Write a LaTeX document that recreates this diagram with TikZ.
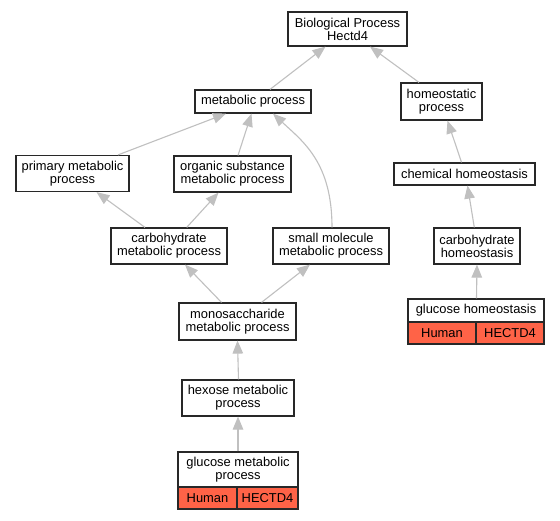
\documentclass[tikz,border=0pt]{standalone}
\usepackage{fontspec}
\setmainfont{Liberation Sans}
\usetikzlibrary{arrows.meta}
\definecolor{edgegray}{RGB}{192,192,192}
\definecolor{cellred}{RGB}{255,99,71}
\definecolor{boxline}{RGB}{40,40,40}
\tikzset{
  term/.style={draw=boxline, line width=1.2pt, fill=white, inner sep=0pt, align=center,
    font=\fontsize{12.9}{13.2}\selectfont},
  cell/.style={term, fill=cellred},
  isa/.style={draw=edgegray, line width=1.1pt, -{Triangle[length=13pt,width=10.5pt]}}
}
\begin{document}
\begin{tikzpicture}[x=1pt,y=-1pt]
\useasboundingbox (0,0) rectangle (560,520);
\fill[white] (0,0) rectangle (560,520);
% nodes
\node[term, minimum width=119pt, minimum height=34pt] (bp) at (347.5,29) {Biological Process\\Hectd4};
\node[term, minimum width=116pt, minimum height=23pt] (met) at (253,101.5) {metabolic process};
\node[term, minimum width=81pt, minimum height=37pt] (homeo) at (441.5,101.5) {homeostatic\\process};
\node[term, minimum width=113pt, minimum height=36pt] (prim) at (72.5,173.5) {primary metabolic\\process};
\node[term, minimum width=117pt, minimum height=36pt] (org) at (232.5,174) {organic substance\\metabolic process};
\node[term, minimum width=141pt, minimum height=22pt] (chem) at (464.5,174) {chemical homeostasis};
\node[term, minimum width=116pt, minimum height=36pt] (carb) at (169,246) {carbohydrate\\metabolic process};
\node[term, minimum width=116pt, minimum height=36pt] (small) at (331,246) {small molecule\\metabolic process};
\node[term, minimum width=86pt, minimum height=36pt] (carbh) at (477,246) {carbohydrate\\homeostasis};
\node[term, minimum width=136pt, minimum height=23pt] (glch) at (476,310.5) {glucose homeostasis};
\node[cell, minimum width=68pt, minimum height=22pt] (glchH) at (442,333) {Human};
\node[cell, minimum width=68pt, minimum height=22pt] (glchG) at (510,333) {HECTD4};
\node[term, minimum width=117pt, minimum height=37pt] (mono) at (237.5,321.5) {monosaccharide\\metabolic process};
\node[term, minimum width=112pt, minimum height=36pt] (hex) at (238,398) {hexose metabolic\\process};
\node[term, minimum width=120pt, minimum height=35pt] (glcm) at (238,469.5) {glucose metabolic\\process};
\node[cell, minimum width=59pt, minimum height=22pt] (glcmH) at (207.5,498) {Human};
\node[cell, minimum width=61pt, minimum height=22pt] (glcmG) at (267.5,498) {HECTD4};
% edges
\draw[isa] ([xshift=17pt]met.north) -- ([xshift=-22pt]bp.south);
\draw[isa] ([xshift=-22.5pt]homeo.north) -- ([xshift=22.5pt]bp.south);
\draw[isa] ([xshift=45.5pt]prim.north) -- ([xshift=-27pt]met.south);
\draw[isa] ([xshift=5.5pt]org.north) -- ([xshift=-1.5pt]met.south);
\draw[isa] ([xshift=1pt]small.north) .. controls ([xshift=1pt,yshift=65pt]small.north) and ([xshift=50pt,yshift=-28pt]met.south) .. ([xshift=20pt]met.south);
\draw[isa] ([xshift=-3pt]chem.north) -- ([xshift=6pt]homeo.south);
\draw[isa] ([xshift=-2.7pt]carbh.north) -- ([xshift=3pt]chem.south);
\draw[isa] ([xshift=0.5pt]glch.north) -- (carbh.south);
\draw[isa] ([xshift=-24pt]carb.north) -- ([xshift=24pt]prim.south);
\draw[isa] ([xshift=17.7pt]carb.north) -- ([xshift=-14pt]org.south);
\draw[isa] ([xshift=-16pt]mono.north) -- ([xshift=16pt]carb.south);
\draw[isa] ([xshift=24pt]mono.north) -- ([xshift=-21pt]small.south);
\draw[isa] ([xshift=0.5pt]hex.north) -- (mono.south);
\draw[isa] (glcm.north) -- (hex.south);
\end{tikzpicture}
\end{document}
